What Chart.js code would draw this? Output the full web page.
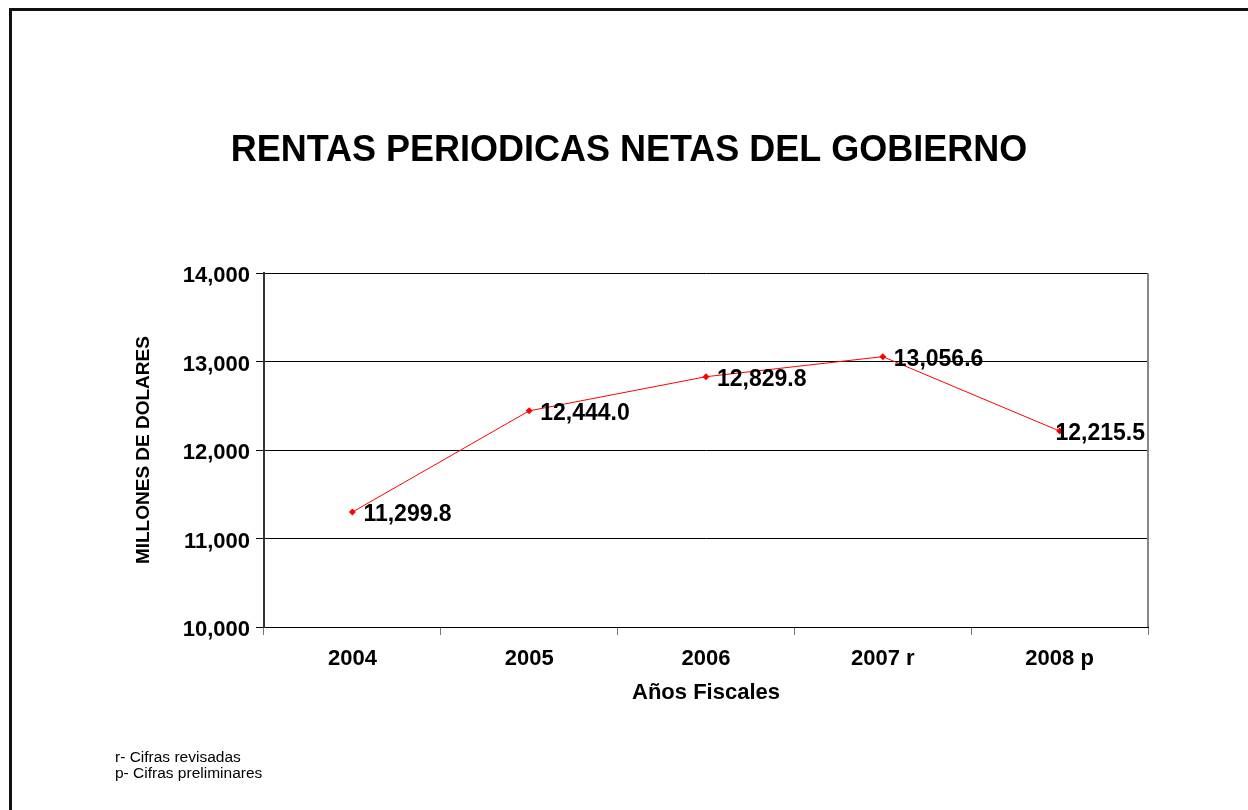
<!DOCTYPE html>
<html><head><meta charset="utf-8">
<script src="https://cdn.jsdelivr.net/npm/chart.js@4.4.0/dist/chart.umd.min.js"></script>
<style>
html,body{margin:0;padding:0;background:#fff;overflow:hidden;width:1248px;height:810px;}
#wrap{position:relative;width:1248px;height:810px;}
#frame{position:absolute;left:9px;top:8px;width:1260px;height:820px;border-top:3px solid #111;border-left:3px solid #111;box-sizing:border-box;pointer-events:none;}
#c{position:absolute;left:0;top:0;}
#notes{position:absolute;left:115px;top:749px;font:15.5px "Liberation Sans",Arial,sans-serif;line-height:16px;color:#000;}
</style></head>
<body>
<div id="wrap">
<canvas id="c" width="1248" height="810"></canvas>
<div id="frame"></div>
<div id="notes"></div>
</div>
<script>
const categories = ['2004', '2005', '2006', '2007 r', '2008 p'];
const values = [11299.8, 12444.0, 12829.8, 13056.6, 12215.5];
const yTicks = [10000, 11000, 12000, 13000, 14000];
const chartTitle = 'RENTAS PERIODICAS NETAS DEL GOBIERNO';
const yTitle = 'MILLONES DE DOLARES';
const xTitle = 'Años Fiscales';
const notes = ['r- Cifras revisadas', 'p- Cifras preliminares'];

document.getElementById('notes').innerHTML = notes.map(n => '<div>' + n + '</div>').join('');

const FONT = '"Liberation Sans", Arial, sans-serif';

const rightBorder = {
  id: 'rightBorder',
  afterDraw(chart) {
    const a = chart.chartArea, ctx = chart.ctx;
    ctx.save();
    ctx.strokeStyle = '#888';
    ctx.lineWidth = 2;
    ctx.beginPath();
    ctx.moveTo(a.right, a.top);
    ctx.lineTo(a.right, a.bottom);
    ctx.stroke();
    ctx.restore();
  }
};

const dataLabels = {
  id: 'dataLabels',
  afterDatasetsDraw(chart) {
    const ctx = chart.ctx, a = chart.chartArea;
    const meta = chart.getDatasetMeta(0);
    ctx.save();
    ctx.font = 'bold 23px ' + FONT;
    ctx.fillStyle = '#000';
    ctx.textBaseline = 'middle';
    ctx.textAlign = 'left';
    meta.data.forEach((p, i) => {
      const txt = values[i].toLocaleString('en-US', {minimumFractionDigits: 1, maximumFractionDigits: 1});
      const w = ctx.measureText(txt).width;
      const x = Math.min(p.x + 11, a.right - w - 3);
      ctx.fillText(txt, x, p.y + 3);
    });
    ctx.restore();
  }
};

new Chart(document.getElementById('c'), {
  type: 'line',
  data: {
    labels: categories,
    datasets: [{
      data: values,
      borderColor: '#ff0000',
      backgroundColor: '#ff0000',
      borderWidth: 1,
      pointStyle: 'rectRot',
      pointRadius: 3.5,
      pointBorderWidth: 0,
      tension: 0,
      fill: false
    }]
  },
  options: {
    responsive: false,
    animation: false,
    devicePixelRatio: 1,
    layout: {padding: {left: 110, right: 100, top: 0, bottom: 93}},
    plugins: {
      legend: {display: false},
      tooltip: {enabled: false},
      title: {
        display: true,
        text: chartTitle,
        color: '#000',
        font: {family: FONT, size: 36, weight: 'bold'},
        padding: {top: 129, bottom: 101}
      }
    },
    scales: {
      x: {
        offset: true,
        grid: {offset: true, drawOnChartArea: false, drawTicks: true, tickLength: 8, color: '#777', lineWidth: 1},
        border: {display: true, color: '#000', width: 1},
        ticks: {color: '#000', font: {family: FONT, size: 22, weight: 'bold'}, padding: 11, maxRotation: 0},
        title: {display: true, text: xTitle, color: '#000', font: {family: FONT, size: 22, weight: 'bold'}, padding: {top: 0, bottom: 11}},
        afterFit: s => { s.height = 90; }
      },
      y: {
        min: yTicks[0],
        max: yTicks[yTicks.length - 1],
        afterBuildTicks: s => { s.ticks = yTicks.map(v => ({value: v})); },
        ticks: {
          color: '#000',
          font: {family: FONT, size: 22, weight: 'bold'},
          padding: 6,
          labelOffset: 3,
          callback: v => Number(v).toLocaleString('en-US')
        },
        grid: {color: '#000', lineWidth: 1, tickLength: 8, drawTicks: true},
        border: {display: true, color: '#333', width: 2},
        title: {display: true, text: yTitle, color: '#000', font: {family: FONT, size: 19, weight: 'bold'}, padding: {top: 22, bottom: 0}},
        afterFit: s => { s.width = 154; }
      }
    }
  },
  plugins: [rightBorder, dataLabels]
});
</script>
</body></html>
